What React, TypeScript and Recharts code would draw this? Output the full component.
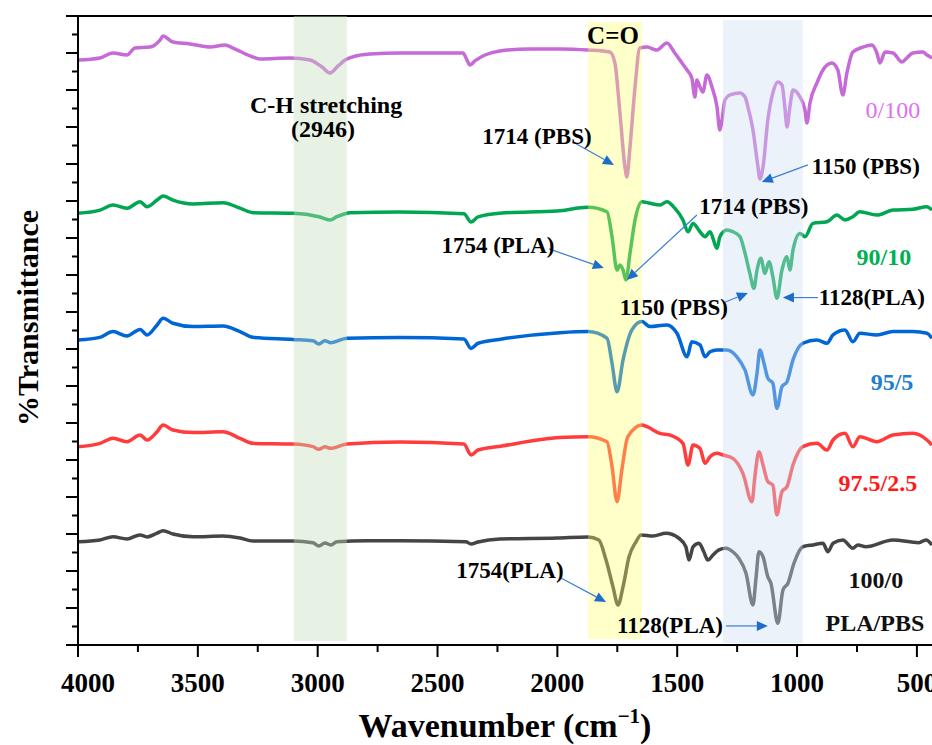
import React from 'react';
import {
  LineChart,
  Line,
  XAxis,
  YAxis,
  ReferenceArea,
  ReferenceLine,
  ReferenceDot,
} from 'recharts';

const FONT = "'Liberation Serif', 'Times New Roman', serif";

// FTIR spectra, [wavenumber cm-1, stacked %T in axis units]
const PBS_0_100: [number, number][] = [
  [4000, 31.62], [3908, 31.73], [3854, 32.0], [3796, 31.89], [3762, 32.27], [3700, 32.32], [3658, 32.7], [3645, 32.92],
  [3604, 32.59], [3533, 32.49], [3449, 32.32], [3387, 32.43], [3353, 32.27], [3282, 31.84], [3241, 31.68], [3116, 31.73],
  [3032, 31.62], [2982, 31.24], [2949, 30.92], [2915, 31.3], [2886, 31.62], [2857, 31.78], [2782, 31.95], [2657, 32.0],
  [2394, 32.0], [2377, 31.62], [2365, 31.35], [2344, 31.57], [2302, 31.89], [2240, 32.11], [2114, 32.22], [1989, 32.22],
  [1872, 32.16], [1781, 32.05], [1760, 31.46], [1739, 28.76], [1718, 25.84], [1710, 25.3], [1697, 26.92], [1676, 30.16],
  [1656, 32.27], [1626, 32.32], [1585, 32.16], [1543, 32.54], [1510, 32.0], [1480, 31.46], [1459, 31.08], [1439, 30.65],
  [1426, 29.62], [1418, 30.54], [1405, 30.16], [1393, 29.89], [1376, 30.81], [1355, 30.16], [1334, 29.08], [1322, 27.84],
  [1313, 28.38], [1301, 29.46], [1280, 29.73], [1238, 29.84], [1217, 29.62], [1205, 29.08], [1184, 27.84], [1163, 25.84],
  [1155, 25.19], [1142, 25.84], [1122, 28.38], [1101, 29.84], [1080, 30.43], [1063, 30.27], [1051, 29.08], [1042, 28.0],
  [1030, 29.08], [1017, 30.0], [988, 29.62], [967, 28.92], [959, 28.22], [946, 29.3], [917, 30.38], [892, 31.08],
  [855, 31.46], [830, 31.08], [809, 29.73], [792, 30.92], [767, 32.05], [725, 32.32], [688, 32.43], [667, 32.0],
  [654, 31.46], [633, 32.05], [600, 32.0], [562, 31.51], [542, 31.73], [517, 32.0], [475, 32.05], [458, 31.89], [437, 31.73],
];

const PLA_90_10: [number, number][] = [
  [4000, 23.34], [3908, 23.51], [3854, 23.78], [3796, 23.61], [3741, 23.96], [3712, 23.69], [3670, 24.05], [3645, 24.27],
  [3604, 24.05], [3520, 23.84], [3395, 23.91], [3324, 23.61], [3270, 23.37], [3103, 23.34], [2995, 23.15], [2949, 22.97],
  [2920, 23.15], [2865, 23.37], [2657, 23.41], [2390, 23.31], [2360, 22.86], [2331, 23.14], [2231, 23.35], [2000, 23.46],
  [1872, 23.66], [1793, 23.42], [1772, 22.07], [1751, 20.27], [1739, 20.54], [1726, 20.27], [1714, 19.73], [1697, 21.17],
  [1676, 22.97], [1647, 23.96], [1614, 23.88], [1572, 23.78], [1543, 23.96], [1510, 23.61], [1476, 22.97], [1455, 22.34],
  [1434, 22.79], [1405, 22.34], [1384, 22.07], [1363, 22.34], [1334, 21.44], [1322, 22.07], [1293, 22.43], [1268, 22.34],
  [1238, 22.07], [1217, 21.17], [1197, 20.09], [1180, 19.28], [1167, 20.27], [1151, 20.9], [1134, 20.09], [1117, 20.72],
  [1101, 19.91], [1084, 18.74], [1063, 20.27], [1042, 20.99], [1030, 20.27], [1017, 21.35], [988, 22.25], [967, 22.07],
  [934, 22.79], [875, 22.88], [834, 23.24], [800, 22.97], [767, 23.15], [738, 23.42], [667, 23.24], [600, 23.51],
  [517, 23.55], [458, 23.69], [437, 23.51],
];

const PLA_95_5: [number, number][] = [
  [4000, 16.49], [3908, 16.63], [3854, 16.94], [3796, 16.7], [3741, 17.06], [3712, 16.76], [3670, 17.3], [3645, 17.66],
  [3604, 17.39], [3520, 17.21], [3395, 17.24], [3324, 16.94], [3270, 16.63], [3103, 16.52], [3020, 16.45], [2995, 16.27],
  [2970, 16.45], [2945, 16.34], [2878, 16.58], [2657, 16.62], [2390, 16.54], [2360, 16.03], [2331, 16.31], [2231, 16.54],
  [1989, 16.88], [1872, 16.94], [1793, 16.58], [1772, 15.23], [1751, 13.69], [1726, 15.41], [1689, 17.03], [1647, 17.48],
  [1614, 17.21], [1543, 17.3], [1501, 16.85], [1459, 15.58], [1439, 16.39], [1405, 16.22], [1384, 15.58], [1363, 15.85],
  [1334, 15.95], [1293, 15.95], [1251, 15.58], [1217, 14.86], [1184, 13.51], [1167, 14.69], [1155, 15.95], [1138, 15.23],
  [1122, 14.42], [1101, 14.15], [1084, 12.79], [1063, 13.96], [1042, 14.23], [1017, 15.41], [976, 16.31], [917, 16.49],
  [875, 16.31], [850, 16.76], [800, 17.03], [767, 16.39], [738, 16.85], [667, 16.76], [600, 16.94], [517, 16.94],
  [458, 16.85], [437, 16.58],
];

const PLA_975_25: [number, number][] = [
  [4000, 10.72], [3908, 10.9], [3854, 11.17], [3796, 10.99], [3741, 11.35], [3712, 11.08], [3670, 11.53], [3645, 11.89],
  [3604, 11.62], [3520, 11.48], [3395, 11.53], [3324, 11.17], [3270, 10.9], [3103, 10.86], [3020, 10.72], [2995, 10.58],
  [2970, 10.72], [2945, 10.63], [2878, 10.86], [2657, 10.97], [2390, 10.86], [2360, 10.27], [2331, 10.54], [2231, 10.76],
  [1989, 11.21], [1872, 11.26], [1793, 10.99], [1772, 9.64], [1751, 7.75], [1731, 9.46], [1706, 11.26], [1647, 11.89],
  [1626, 11.8], [1572, 11.44], [1530, 11.35], [1476, 10.9], [1455, 9.73], [1434, 10.81], [1405, 10.63], [1384, 9.82],
  [1363, 10.18], [1334, 10.36], [1309, 10.27], [1268, 10.09], [1226, 9.28], [1188, 7.75], [1176, 9.1], [1159, 10.45],
  [1142, 9.73], [1122, 8.83], [1101, 8.65], [1084, 7.03], [1063, 8.29], [1042, 8.56], [1017, 9.73], [976, 10.72],
  [917, 10.9], [875, 10.54], [850, 11.08], [800, 11.44], [767, 10.72], [738, 11.26], [667, 10.99], [600, 11.35],
  [517, 11.44], [458, 11.08], [437, 10.81],
];

const PLA_100_0: [number, number][] = [
  [4000, 5.58], [3908, 5.68], [3854, 5.85], [3796, 5.73], [3741, 5.95], [3712, 5.84], [3670, 6.05], [3645, 6.18],
  [3604, 6.0], [3520, 5.85], [3395, 5.89], [3324, 5.78], [3270, 5.62], [3103, 5.62], [3020, 5.53], [2995, 5.35],
  [2970, 5.51], [2945, 5.41], [2920, 5.58], [2794, 5.64], [2657, 5.64], [2382, 5.58], [2360, 5.46], [2331, 5.57],
  [2240, 5.73], [2000, 5.78], [1872, 5.84], [1827, 5.68], [1797, 4.59], [1768, 3.15], [1747, 2.16], [1726, 3.15],
  [1701, 4.77], [1672, 5.58], [1651, 5.95], [1601, 5.89], [1547, 6.04], [1493, 5.77], [1464, 5.31], [1451, 4.59],
  [1434, 5.31], [1409, 5.5], [1389, 5.04], [1372, 4.59], [1351, 4.86], [1326, 5.14], [1297, 5.23], [1268, 5.04],
  [1243, 4.69], [1213, 3.88], [1184, 2.16], [1172, 3.51], [1159, 5.04], [1142, 4.77], [1122, 3.69], [1109, 3.34],
  [1080, 1.17], [1059, 2.97], [1038, 3.34], [1013, 4.42], [976, 5.31], [934, 5.41], [892, 5.5], [871, 5.04],
  [850, 5.5], [809, 5.68], [767, 5.23], [746, 5.41], [713, 5.31], [600, 5.68], [492, 5.53], [462, 5.68], [437, 5.41],
];

const SERIES = [
  { name: '0/100', points: PBS_0_100, color: '#c66ad8' },
  { name: '90/10', points: PLA_90_10, color: '#00a651' },
  { name: '95/5', points: PLA_95_5, color: '#0066d6' },
  { name: '97.5/2.5', points: PLA_975_25, color: '#ff3b3b' },
  { name: '100/0', points: PLA_100_0, color: '#454545' },
];

const X_TICKS = [4000, 3750, 3500, 3250, 3000, 2750, 2500, 2250, 2000, 1750, 1500, 1250, 1000, 750, 500];
const Y_TICKS = Array.from({ length: 35 }, (_, i) => i);

// highlighted bands (C-H, C=O, C-O-C)
const BANDS = [
  { x1: 3100, x2: 2878, y1: 0.22, y2: 34, fill: '#c5debb', opacity: 0.4 },
  { x1: 1872, x2: 1647, y1: 0.32, y2: 33.68, fill: '#ffff66', opacity: 0.35 },
  { x1: 1309, x2: 976, y1: 0.11, y2: 33.78, fill: '#cfdef2', opacity: 0.4 },
];

const NOTES = [
  { wn: 2965, t: 29.19, text: 'C-H stretching', size: 24 },
  { wn: 2978, t: 27.89, text: '(2946)', size: 24 },
  { wn: 1768, t: 32.92, text: 'C=O', size: 25 },
  { wn: 2085, t: 27.51, text: '1714 (PBS)', size: 23 },
  { wn: 713, t: 25.84, text: '1150 (PBS)', size: 23 },
  { wn: 1180, t: 23.68, text: '1714 (PBS)', size: 23 },
  { wn: 2248, t: 21.57, text: '1754 (PLA)', size: 23 },
  { wn: 1514, t: 18.22, text: '1150 (PBS)', size: 23 },
  { wn: 688, t: 18.76, text: '1128(PLA)', size: 23 },
  { wn: 2198, t: 4.05, text: '1754(PLA)', size: 23 },
  { wn: 1530, t: 1.08, text: '1128(PLA)', size: 23 },
];

// [from wn, from t, to wn, to t]
const ARROWS = [
  [1935, 27.19, 1764, 25.95],
  [955, 25.95, 1147, 25.03],
  [1418, 23.24, 1710, 19.73],
  [2035, 21.41, 1806, 20.38],
  [1309, 18.49, 1205, 19.03],
  [913, 18.78, 1059, 18.78],
  [1985, 3.62, 1797, 2.32],
  [1297, 1.03, 1122, 1.03],
];

const SERIES_LABELS = [
  { wn: 600, t: 28.92, text: '0/100', color: '#e070f0', weight: 400 },
  { wn: 638, t: 20.97, text: '90/10', color: '#00b050', weight: 700 },
  { wn: 604, t: 14.22, text: '95/5', color: '#1f7fd0', weight: 700 },
  { wn: 663, t: 8.76, text: '97.5/2.5', color: '#ff1a1a', weight: 700 },
  { wn: 671, t: 3.51, text: '100/0', color: '#111', weight: 700 },
  { wn: 675, t: 1.19, text: 'PLA/PBS', color: '#111', weight: 700 },
];

const toRows = (pts: [number, number][]) => pts.map(([wn, t]) => ({ wn, t }));

const MARGIN = { top: 16, right: 0, bottom: 0, left: 0 };

const XTick = (props: any) => {
  const { x, y, payload } = props;
  const major = payload.value % 500 === 0;
  // first label is nudged inwards so it stays clear of the y axis, as in the figure
  const dx = payload.value === 4000 ? 10 : 0;
  return (
    <g>
      <line x1={x} y1={y} x2={x} y2={y + (major ? 12 : 7)} stroke="#000" strokeWidth={2} />
      {major && (
        <text x={x + dx} y={y + 47} textAnchor="middle" fontFamily={FONT} fontSize={27} fontWeight={700} fill="#000">
          {payload.value}
        </text>
      )}
    </g>
  );
};

const YTick = (props: any) => {
  const { x, y, payload } = props;
  const major = payload.value % 2 === 0;
  return <line x1={x} y1={y} x2={x - (major ? 12 : 6)} y2={y} stroke="#000" strokeWidth={2} />;
};

const XLabel = (props: any) => {
  const vb = props.viewBox || { x: 78, y: 645, width: 854, height: 100 };
  return (
    <text x={vb.x + vb.width / 2} y={vb.y + 92} textAnchor="middle" fontFamily={FONT} fontSize={34} fontWeight={700} fill="#000">
      Wavenumber (cm
      <tspan dy={-14} fontSize={21}>−1</tspan>
      <tspan dy={14}>)</tspan>
    </text>
  );
};

const YLabel = () => (
  <text x={38} y={318} transform="rotate(-90, 38, 318)" textAnchor="middle" fontFamily={FONT} fontSize={30} fontWeight={700} fill="#000">
    %Transmittance
  </text>
);

const arrowShape = (p: any) => {
  const { x1, y1, x2, y2 } = p;
  const a = Math.atan2(y2 - y1, x2 - x1);
  const len = 11;
  const half = 5;
  const bx = x2 - len * Math.cos(a);
  const by = y2 - len * Math.sin(a);
  const pts = `${x2},${y2} ${bx + half * Math.sin(a)},${by - half * Math.cos(a)} ${bx - half * Math.sin(a)},${by + half * Math.cos(a)}`;
  return (
    <g>
      <line x1={x1} y1={y1} x2={bx} y2={by} stroke="#3a80d2" strokeWidth={1.2} />
      <polygon points={pts} fill="#1e6ccc" />
    </g>
  );
};

export default function App() {
  return (
    <div style={{ position: 'absolute', left: 0, top: 0, width: 932, height: 745, background: '#fff' }}>
      <div style={{ position: 'absolute', left: 0, top: 0 }}>
        <LineChart width={932} height={745} margin={MARGIN}>
          <XAxis
            dataKey="wn"
            type="number"
            domain={[437, 4000]}
            reversed
            allowDataOverflow
            ticks={X_TICKS}
            interval={0}
            tickSize={0}
            tickMargin={0}
            tickLine={false}
            tick={(p: any) => <XTick {...p} />}
            axisLine={{ stroke: '#000', strokeWidth: 2 }}
            height={100}
            label={{ content: XLabel }}
          />
          <YAxis
            type="number"
            domain={[0, 34]}
            ticks={Y_TICKS}
            interval={0}
            width={78}
            tickSize={0}
            tickMargin={0}
            tickLine={false}
            tick={(p: any) => <YTick {...p} />}
            axisLine={{ stroke: '#000', strokeWidth: 2 }}
            label={{ content: YLabel }}
          />
          {SERIES.map((s) => (
            <Line
              key={s.name}
              name={s.name}
              data={toRows(s.points)}
              dataKey="t"
              type="monotone"
              stroke={s.color}
              strokeWidth={3.5}
              strokeLinejoin="round"
              dot={false}
              activeDot={false}
              isAnimationActive={false}
            />
          ))}
          <ReferenceLine y={34} stroke="#000" strokeWidth={2} />
        </LineChart>
      </div>
      {/* second layer on the same plot box: bands lie over the spectra, notes over the bands */}
      <div style={{ position: 'absolute', left: 0, top: 0, pointerEvents: 'none' }}>
        <LineChart width={932} height={745} margin={MARGIN}>
          <XAxis dataKey="wn" type="number" domain={[437, 4000]} reversed allowDataOverflow height={100} tick={false} axisLine={false} tickLine={false} />
          <YAxis type="number" domain={[0, 34]} width={78} tick={false} axisLine={false} tickLine={false} />
          <Line
            data={toRows(PLA_100_0)}
            dataKey="t"
            stroke="none"
            strokeOpacity={0}
            dot={false}
            activeDot={false}
            legendType="none"
            isAnimationActive={false}
          />
          {BANDS.map((b, i) => (
            <ReferenceArea key={`band-${i}`} x1={b.x1} x2={b.x2} y1={b.y1} y2={b.y2} fill={b.fill} fillOpacity={b.opacity} stroke="none" />
          ))}
          {ARROWS.map((a, i) => (
            <ReferenceLine
              key={`arrow-${i}`}
              segment={[{ x: a[0], y: a[1] }, { x: a[2], y: a[3] }]}
              shape={arrowShape}
            />
          ))}
          {NOTES.map((n, i) => (
            <ReferenceDot
              key={`note-${i}`}
              x={n.wn}
              y={n.t}
              r={0}
              shape={(p: any) => (
                <text x={p.cx} y={p.cy} textAnchor="middle" dominantBaseline="central" fontFamily={FONT} fontSize={n.size} fontWeight={700} fill="#000">
                  {n.text}
                </text>
              )}
            />
          ))}
          {SERIES_LABELS.map((l, i) => (
            <ReferenceDot
              key={`lab-${i}`}
              x={l.wn}
              y={l.t}
              r={0}
              shape={(p: any) => (
                <text x={p.cx} y={p.cy} textAnchor="middle" dominantBaseline="central" fontFamily={FONT} fontSize={24} fontWeight={l.weight} fill={l.color}>
                  {l.text}
                </text>
              )}
            />
          ))}
        </LineChart>
      </div>
    </div>
  );
}
